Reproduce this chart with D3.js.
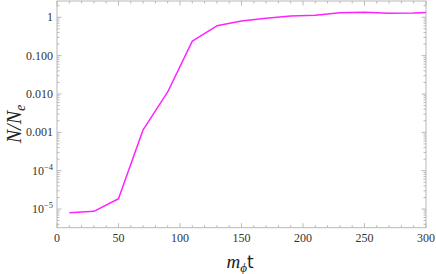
<!DOCTYPE html>
<html><head><meta charset="utf-8">
<script src="https://cdn.jsdelivr.net/npm/d3@7"></script>
<style>body{margin:0;background:#fff}svg{display:block}</style>
</head><body>
<script>
const tValues = [10, 30, 50, 70, 90, 110, 130, 150, 170, 190, 210, 230, 250, 270, 290, 300];
const nValues = [8.0e-6, 8.7e-6, 1.85e-5, 1.16e-3, 0.0113, 0.24, 0.6, 0.8, 0.95, 1.08, 1.13, 1.32, 1.35, 1.28, 1.3, 1.34];
const xTicks = [0, 50, 100, 150, 200, 250, 300];
const yTicks = [1, 0.1, 0.01, 0.001, 1e-4, 1e-5];
const yTickLabels = ["1", "0.100", "0.010", "0.001", "10^-4", "10^-5"];

const W = 436, H = 274;
const L = 57, R = 426, T = 1, B = 227.7;
const svg = d3.select("body").append("svg").attr("width", W).attr("height", H);

const x = d3.scaleLinear().domain([0, 300]).range([L, R]);
const y = d3.scaleLog().domain([3.26e-6, 2.66]).range([B, T]);

const frameCol = "#b8b8b8";
const g = svg.append("g");

// frame
g.append("rect").attr("x", L).attr("y", T).attr("width", R - L).attr("height", B - T)
  .attr("fill", "none").attr("stroke", frameCol).attr("stroke-width", 1);

// x ticks
const xMinor = d3.range(0, 301, 10);
xMinor.forEach(v => {
  const major = v % 50 === 0;
  const len = major ? 4.5 : 2.5;
  const px = x(v);
  g.append("line").attr("x1", px).attr("x2", px).attr("y1", B).attr("y2", B - len).attr("stroke", frameCol);
  g.append("line").attr("x1", px).attr("x2", px).attr("y1", T).attr("y2", T + len).attr("stroke", frameCol);
});
// y ticks
const yMinor = [];
for (let e = -6; e <= 0; e++) for (let m = 1; m <= 9; m++) {
  const v = m * Math.pow(10, e);
  if (v >= 3.26e-6 && v <= 2.66) yMinor.push({v, major: m === 1});
}
yMinor.forEach(d => {
  const len = d.major ? 4.5 : 2.5;
  const py = y(d.v);
  g.append("line").attr("x1", L).attr("x2", L + len).attr("y1", py).attr("y2", py).attr("stroke", frameCol);
  g.append("line").attr("x1", R).attr("x2", R - len).attr("y1", py).attr("y2", py).attr("stroke", frameCol);
});

// x tick labels
xTicks.forEach(v => {
  g.append("text").attr("x", x(v)).attr("y", 242).attr("text-anchor", "middle")
    .attr("font-family", "Liberation Serif").attr("font-size", 12).attr("fill", "#333").text(v);
});
// y tick labels
yTicks.forEach((v, i) => {
  const lab = yTickLabels[i];
  const t = g.append("text").attr("x", 53).attr("y", y(v) + 4).attr("text-anchor", "end")
    .attr("font-family", "Liberation Serif").attr("font-size", 12).attr("fill", "#333");
  if (lab.startsWith("10^")) {
    t.append("tspan").text("10");
    t.append("tspan").attr("dy", -5).attr("font-size", 8.5).text(lab.slice(3).replace("-", "\u2212"));
  } else t.text(lab);
});

// line
const line = d3.line().x((d, i) => x(tValues[i])).y(d => y(d));
g.append("path").datum(nValues).attr("d", line).attr("fill", "none")
  .attr("stroke", "#ff22ff").attr("stroke-width", 1.5).attr("stroke-linejoin", "round");

// axis titles
const xt = svg.append("text").attr("x", 240).attr("y", 268).attr("text-anchor", "middle")
  .attr("font-family", "Liberation Serif").attr("font-size", 19).attr("fill", "#222");
xt.append("tspan").attr("font-style", "italic").text("m");
xt.append("tspan").attr("font-style", "italic").attr("font-size", 13).attr("dy", 4).text("\u03d5");
xt.append("tspan").attr("dy", -4).attr("font-family", "DejaVu Sans").attr("font-size", 17).text("t");

const yt = svg.append("text").attr("transform", "translate(21,124) rotate(-90)").attr("text-anchor", "middle")
  .attr("font-family", "Liberation Serif").attr("font-size", 20).attr("font-style", "italic").attr("fill", "#222");
yt.append("tspan").text("N/N");
yt.append("tspan").attr("font-size", 14).attr("dy", 4).text("e");
</script>
</body></html>
